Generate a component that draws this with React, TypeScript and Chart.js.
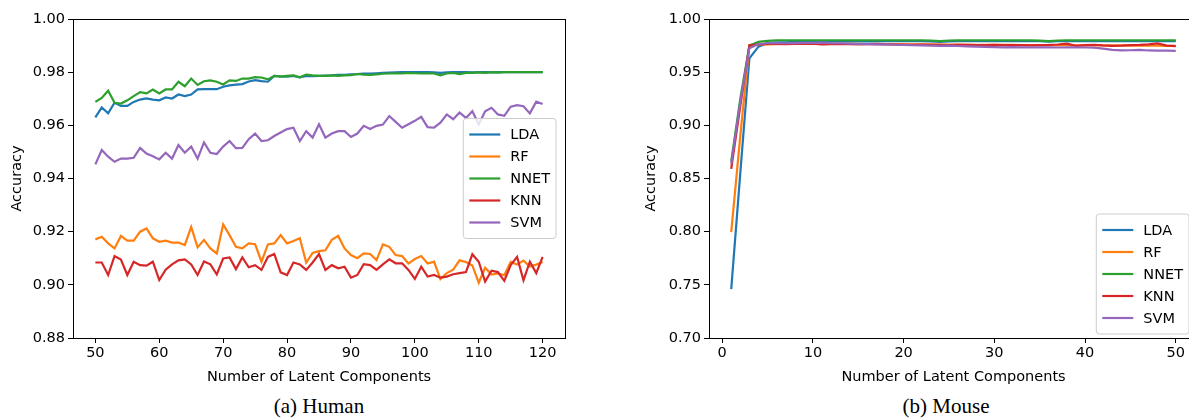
import React, { useEffect, useRef } from "react";
import { Chart, registerables } from "chart.js";

Chart.register(...registerables);

// ---------- data ----------
const seriesNames = ["LDA", "RF", "NNET", "KNN", "SVM"];
const seriesColors = ["#1f77b4", "#ff7f0e", "#2ca02c", "#d62728", "#9467bd"];

const humanComponents = [
  50, 51, 52, 53, 54, 55, 56, 57, 58, 59,
  60, 61, 62, 63, 64, 65, 66, 67, 68, 69,
  70, 71, 72, 73, 74, 75, 76, 77, 78, 79,
  80, 81, 82, 83, 84, 85, 86, 87, 88, 89,
  90, 91, 92, 93, 94, 95, 96, 97, 98, 99,
  100, 101, 102, 103, 104, 105, 106, 107, 108, 109,
  110, 111, 112, 113, 114, 115, 116, 117, 118, 119,
  120,
];
const humanLDA = [
  0.963, 0.9667, 0.9645, 0.9685, 0.9673, 0.9673, 0.9688, 0.9697, 0.9701, 0.9697,
  0.9694, 0.9705, 0.9701, 0.9716, 0.971, 0.9716, 0.9735, 0.9736, 0.9736, 0.9736,
  0.9745, 0.975, 0.9753, 0.9755, 0.9765, 0.977, 0.9766, 0.9764, 0.9786, 0.9784,
  0.9783, 0.9786, 0.978, 0.9786, 0.9785, 0.9786, 0.9787, 0.9788, 0.979, 0.979,
  0.9792, 0.9793, 0.9795, 0.9795, 0.9796, 0.9797, 0.9798, 0.9799, 0.98, 0.98,
  0.98, 0.98, 0.98, 0.9799, 0.9797, 0.9799, 0.98, 0.98, 0.98, 0.9799,
  0.98, 0.98, 0.9799, 0.98, 0.98, 0.98, 0.98, 0.98, 0.98, 0.98,
  0.98,
];
const humanRF = [
  0.9171, 0.9181, 0.9156, 0.9137, 0.9184, 0.9166, 0.9166, 0.92, 0.9212, 0.9175,
  0.9162, 0.9166, 0.9159, 0.9159, 0.915, 0.9218, 0.9141, 0.9169, 0.9137, 0.9118,
  0.9227, 0.9187, 0.9143, 0.9137, 0.9156, 0.9153, 0.9087, 0.9152, 0.9156, 0.9187,
  0.9156, 0.9165, 0.9175, 0.9084, 0.912, 0.9127, 0.913, 0.9169, 0.9184, 0.9137,
  0.9112, 0.91, 0.9118, 0.9116, 0.9093, 0.9152, 0.9143, 0.9112, 0.9108, 0.908,
  0.9097, 0.9108, 0.908, 0.9087, 0.9022, 0.9044, 0.9057, 0.9092, 0.9086, 0.9073,
  0.9008, 0.9064, 0.9039, 0.9043, 0.9036, 0.9086, 0.9076, 0.9091, 0.9069, 0.9076,
  0.9086,
];
const humanNNET = [
  0.9688, 0.9703, 0.973, 0.9685, 0.9682, 0.9694, 0.971, 0.9725, 0.972, 0.9735,
  0.972, 0.9735, 0.9735, 0.9764, 0.9747, 0.9776, 0.9752, 0.9766, 0.9769, 0.9764,
  0.9754, 0.9769, 0.9767, 0.9776, 0.9776, 0.9781, 0.978, 0.9773, 0.9786, 0.9783,
  0.9786, 0.9788, 0.9781, 0.9791, 0.9788, 0.9786, 0.9786, 0.9788, 0.9786, 0.9788,
  0.9789, 0.9793, 0.9791, 0.979, 0.9792, 0.9794, 0.9795, 0.9796, 0.9795, 0.9797,
  0.9796, 0.9795, 0.9796, 0.9795, 0.9788, 0.9795, 0.9797, 0.9793, 0.9797, 0.9797,
  0.9799, 0.9797, 0.98, 0.9798, 0.98, 0.98, 0.98, 0.98, 0.98, 0.98,
  0.98,
];
const humanKNN = [
  0.9084, 0.9084, 0.9037, 0.9108, 0.9095, 0.9037, 0.9087, 0.9074, 0.9072, 0.9087,
  0.9018, 0.9057, 0.9077, 0.9092, 0.9096, 0.9077, 0.9037, 0.9088, 0.9077, 0.9039,
  0.9099, 0.9103, 0.9059, 0.9103, 0.9066, 0.9074, 0.9056, 0.9105, 0.9116, 0.9047,
  0.9037, 0.9084, 0.9077, 0.9056, 0.9084, 0.9116, 0.9056, 0.9074, 0.9062, 0.9068,
  0.9027, 0.9037, 0.9078, 0.9074, 0.9056, 0.9077, 0.9096, 0.9081, 0.9081, 0.9056,
  0.9022, 0.9068, 0.9031, 0.9037, 0.9027, 0.9031, 0.904, 0.9044, 0.9048, 0.9115,
  0.9087, 0.9012, 0.9053, 0.9048, 0.9015, 0.9074, 0.9105, 0.9017, 0.9087, 0.9044,
  0.9105,
];
const humanSVM = [
  0.9453, 0.9507, 0.9482, 0.9463, 0.9475, 0.9475, 0.9478, 0.9515, 0.9494, 0.9484,
  0.9472, 0.9497, 0.9475, 0.9526, 0.9497, 0.952, 0.9475, 0.9536, 0.9497, 0.9492,
  0.952, 0.9541, 0.9514, 0.9515, 0.9548, 0.9569, 0.9541, 0.9544, 0.956, 0.9573,
  0.9586, 0.9591, 0.9541, 0.9578, 0.9554, 0.9604, 0.9554, 0.9569, 0.9578, 0.9578,
  0.9556, 0.9569, 0.9598, 0.9586, 0.9598, 0.9603, 0.9635, 0.9613, 0.9591, 0.9604,
  0.9617, 0.9632, 0.9593, 0.9591, 0.961, 0.9641, 0.9623, 0.9648, 0.9628, 0.9653,
  0.9603, 0.9653, 0.9666, 0.9641, 0.9636, 0.967, 0.9676, 0.9672, 0.9645, 0.9689,
  0.968,
];

const mouseComponents = [
  1, 2, 3, 4, 5, 6, 7, 8, 9, 10,
  11, 12, 13, 14, 15, 16, 17, 18, 19, 20,
  21, 22, 23, 24, 25, 26, 27, 28, 29, 30,
  31, 32, 33, 34, 35, 36, 37, 38, 39, 40,
  41, 42, 43, 44, 45, 46, 47, 48, 49, 50,
];
const mouseLDA = [
  0.746, 0.855, 0.963, 0.974, 0.9775, 0.978, 0.978, 0.9785, 0.9787, 0.9788,
  0.979, 0.979, 0.979, 0.9791, 0.979, 0.9791, 0.979, 0.9791, 0.9792, 0.9791,
  0.9792, 0.9791, 0.979, 0.9784, 0.979, 0.9792, 0.9792, 0.9791, 0.9792, 0.9792,
  0.9792, 0.9792, 0.9791, 0.9792, 0.9791, 0.9788, 0.9792, 0.9792, 0.9792, 0.9792,
  0.9792, 0.9792, 0.9792, 0.9792, 0.9792, 0.9792, 0.9792, 0.9792, 0.9792, 0.9792,
];
const mouseRF = [
  0.7995, 0.89, 0.9755, 0.976, 0.9762, 0.9764, 0.9765, 0.9765, 0.9765, 0.9765,
  0.9766, 0.9765, 0.9766, 0.9767, 0.9766, 0.9765, 0.9766, 0.9765, 0.9764, 0.9763,
  0.9762, 0.9762, 0.9761, 0.976, 0.976, 0.9759, 0.9758, 0.9758, 0.9757, 0.9757,
  0.9756, 0.9756, 0.9755, 0.9755, 0.9754, 0.9754, 0.9753, 0.9754, 0.9753, 0.9752,
  0.9752, 0.9751, 0.9752, 0.9752, 0.975, 0.975, 0.9749, 0.9749, 0.9748, 0.9748,
];
const mouseNNET = [
  0.866, 0.925, 0.975, 0.9785, 0.9795, 0.98, 0.98, 0.98, 0.98, 0.98,
  0.98, 0.98, 0.98, 0.98, 0.98, 0.98, 0.98, 0.98, 0.98, 0.98,
  0.98, 0.98, 0.9798, 0.9792, 0.9798, 0.98, 0.98, 0.98, 0.98, 0.98,
  0.98, 0.98, 0.98, 0.98, 0.9797, 0.9792, 0.9798, 0.98, 0.98, 0.98,
  0.98, 0.98, 0.98, 0.98, 0.98, 0.98, 0.98, 0.98, 0.98, 0.98,
];
const mouseKNN = [
  0.859, 0.918, 0.975, 0.9762, 0.9765, 0.9765, 0.9764, 0.9765, 0.9766, 0.9768,
  0.976, 0.9763, 0.9765, 0.9764, 0.9762, 0.9763, 0.9764, 0.9762, 0.976, 0.9758,
  0.9758, 0.976, 0.9757, 0.9756, 0.9755, 0.9756, 0.9756, 0.9754, 0.9755, 0.9756,
  0.9754, 0.9755, 0.9754, 0.9753, 0.9755, 0.9756, 0.976, 0.9769, 0.9748, 0.9755,
  0.9758, 0.9752, 0.9748, 0.975, 0.9754, 0.9756, 0.9762, 0.977, 0.975, 0.9745,
];
const mouseSVM = [
  0.8637, 0.922, 0.9724, 0.9765, 0.9772, 0.9773, 0.9772, 0.9774, 0.9775, 0.9776,
  0.9778, 0.9774, 0.9772, 0.9768, 0.9765, 0.9764, 0.9762, 0.9762, 0.9758, 0.9756,
  0.9753, 0.9752, 0.975, 0.9748, 0.9749, 0.9746, 0.9743, 0.974, 0.9738, 0.9736,
  0.9734, 0.9735, 0.9734, 0.9733, 0.9734, 0.9733, 0.9732, 0.9734, 0.9733, 0.9732,
  0.973, 0.9722, 0.9709, 0.9705, 0.9706, 0.971, 0.9704, 0.9702, 0.9703, 0.97,
];

const humanXTicks = [50, 60, 70, 80, 90, 100, 110, 120];
const humanYTicks = [0.88, 0.9, 0.92, 0.94, 0.96, 0.98, 1.0];
const mouseXTicks = [0, 10, 20, 30, 40, 50];
const mouseYTicks = [0.7, 0.75, 0.8, 0.85, 0.9, 0.95, 1.0];

const xTitle = "Number of Latent Components";
const yTitle = "Accuracy";

// ---------- helpers ----------
const FONT = "'DejaVu Sans', Verdana, sans-serif";
const FONT_SIZE = 14.5;
const TICK_FONT = { family: FONT, size: FONT_SIZE };
const AXIS_COLOR = "#000000";

const boxPlugin = {
  id: "mplBox",
  afterDatasetsDraw(chart: any) {
    const { ctx, chartArea: a } = chart;
    ctx.save();
    ctx.strokeStyle = AXIS_COLOR;
    ctx.lineWidth = 1;
    ctx.strokeRect(Math.round(a.left) + 0.5, Math.round(a.top) + 0.5, Math.round(a.right - a.left), Math.round(a.bottom - a.top));
    ctx.restore();
  },
};

function makeLegendPlugin(loc: "centerRight" | "lowerRight") {
  return {
    id: "mplLegend",
    afterDraw(chart: any) {
      const { ctx, chartArea: a } = chart;
      const labels: string[] = chart.data.datasets.map((d: any) => d.label);
      const colors: string[] = chart.data.datasets.map((d: any) => d.borderColor);
      ctx.save();
      ctx.font = `${FONT_SIZE}px ${FONT}`;
      const textW = Math.max(...labels.map((l) => ctx.measureText(l).width));
      const padX = 6;
      const handle = 31;
      const gap = 10;
      const rowH = 22;
      const padY = 5;
      const boxW = padX + handle + gap + textW + padX;
      const boxH = labels.length * rowH + padY * 2;
      const x = a.right - 9 - boxW;
      const y = loc === "centerRight" ? (a.top + a.bottom) / 2 - boxH / 2 : a.bottom - 4 - boxH;
      const r = 3;
      ctx.beginPath();
      ctx.moveTo(x + r, y);
      ctx.lineTo(x + boxW - r, y);
      ctx.arcTo(x + boxW, y, x + boxW, y + r, r);
      ctx.lineTo(x + boxW, y + boxH - r);
      ctx.arcTo(x + boxW, y + boxH, x + boxW - r, y + boxH, r);
      ctx.lineTo(x + r, y + boxH);
      ctx.arcTo(x, y + boxH, x, y + boxH - r, r);
      ctx.lineTo(x, y + r);
      ctx.arcTo(x, y, x + r, y, r);
      ctx.closePath();
      ctx.fillStyle = "rgba(255,255,255,0.8)";
      ctx.fill();
      ctx.strokeStyle = "#cccccc";
      ctx.lineWidth = 1;
      ctx.stroke();
      ctx.textBaseline = "middle";
      ctx.textAlign = "left";
      labels.forEach((l, i) => {
        const cy = y + padY + rowH * i + rowH / 2;
        ctx.beginPath();
        ctx.strokeStyle = colors[i];
        ctx.lineWidth = 2.2;
        ctx.moveTo(x + padX, cy);
        ctx.lineTo(x + padX + handle, cy);
        ctx.stroke();
        ctx.fillStyle = "#000";
        ctx.fillText(l, x + padX + handle + gap, cy + 1);
      });
      ctx.restore();
    },
  };
}

type PanelProps = {
  xs: number[];
  series: number[][];
  xMin: number;
  xMax: number;
  yMin: number;
  yMax: number;
  xTicks: number[];
  yTicks: number[];
  yDecimals: number;
  left: number;
  width: number;
  height: number;
  axisWidth: number;
  plotRight: number;
  plotTop: number;
  plotBottom: number;
  legendLoc: "centerRight" | "lowerRight";
};

function Panel(p: PanelProps) {
  const ref = useRef<HTMLCanvasElement>(null);
  useEffect(() => {
    const canvas = ref.current;
    if (!canvas) return;
    const n = seriesNames.length;
    const chart = new Chart(canvas, {
      type: "line",
      data: {
        datasets: seriesNames.map((name, i) => ({
          label: name,
          data: p.xs.map((x, j) => ({ x, y: p.series[i][j] })),
          borderColor: seriesColors[i],
          backgroundColor: seriesColors[i],
          borderWidth: 2.2,
          pointRadius: 0,
          fill: false,
          tension: 0,
          order: n - i,
        })),
      },
      options: {
        animation: false,
        responsive: false,
        maintainAspectRatio: false,
        events: [],
        layout: { padding: { top: p.plotTop, right: p.width - p.plotRight, left: 0, bottom: 0 } },
        plugins: { legend: { display: false }, tooltip: { enabled: false } },
        scales: {
          x: {
            type: "linear",
            min: p.xMin,
            max: p.xMax,
            afterBuildTicks: (scale: any) => {
              scale.ticks = p.xTicks.map((v) => ({ value: v }));
            },
            afterFit: (scale: any) => {
              scale.height = p.height - p.plotBottom;
            },
            ticks: {
              font: TICK_FONT,
              color: "#000",
              padding: 2,
              maxRotation: 0,
              autoSkip: false,
              callback: (v: any) => String(v),
            },
            grid: { drawOnChartArea: false, drawTicks: true, tickLength: 5, color: AXIS_COLOR, lineWidth: 1 },
            border: { display: true, color: AXIS_COLOR, width: 1 },
            title: { display: true, text: xTitle, font: TICK_FONT, color: "#000", padding: { top: 0, bottom: 6 } },
          },
          y: {
            type: "linear",
            min: p.yMin,
            max: p.yMax,
            afterBuildTicks: (scale: any) => {
              scale.ticks = p.yTicks.map((v) => ({ value: v }));
            },
            afterFit: (scale: any) => {
              scale.width = p.axisWidth;
            },
            ticks: {
              font: TICK_FONT,
              color: "#000",
              padding: 3,
              autoSkip: false,
              callback: (v: any) => Number(v).toFixed(p.yDecimals),
            },
            grid: { drawOnChartArea: false, drawTicks: true, tickLength: 5, color: AXIS_COLOR, lineWidth: 1 },
            border: { display: true, color: AXIS_COLOR, width: 1 },
            title: { display: true, text: yTitle, font: TICK_FONT, color: "#000", padding: { top: 9, bottom: 0 } },
          },
        },
      } as any,
      plugins: [boxPlugin, makeLegendPlugin(p.legendLoc)],
    });
    return () => chart.destroy();
  }, []);
  return (
    <canvas
      ref={ref}
      width={p.width}
      height={p.height}
      style={{ position: "absolute", left: p.left, top: 0, width: p.width, height: p.height }}
    />
  );
}

const captionStyle: React.CSSProperties = {
  position: "absolute",
  top: 393,
  fontFamily: "'Liberation Serif', 'Times New Roman', serif",
  fontSize: 21,
  lineHeight: "26px",
  color: "#000",
  textAlign: "center",
  whiteSpace: "nowrap",
};

export default function App() {
  return (
    <div
      style={{
        position: "fixed",
        left: 0,
        top: 0,
        width: 1189,
        height: 420,
        overflow: "hidden",
        background: "#fff",
      }}
    >
      <Panel
        xs={humanComponents}
        series={[humanLDA, humanRF, humanNNET, humanKNN, humanSVM]}
        xMin={46.5}
        xMax={123.5}
        yMin={0.88}
        yMax={1.0}
        xTicks={humanXTicks}
        yTicks={humanYTicks}
        yDecimals={2}
        left={0}
        width={600}
        height={392}
        axisWidth={73}
        plotRight={565}
        plotTop={19}
        plotBottom={338}
        legendLoc="centerRight"
      />
      <Panel
        xs={mouseComponents}
        series={[mouseLDA, mouseRF, mouseNNET, mouseKNN, mouseSVM]}
        xMin={-1.45}
        xMax={52.45}
        yMin={0.7}
        yMax={1.0}
        xTicks={mouseXTicks}
        yTicks={mouseYTicks}
        yDecimals={2}
        left={634}
        width={590}
        height={392}
        axisWidth={75}
        plotRight={564}
        plotTop={19}
        plotBottom={338}
        legendLoc="lowerRight"
      />
      <div style={{ ...captionStyle, left: 0, width: 638 }}>(a) Human</div>
      <div style={{ ...captionStyle, left: 700, width: 492 }}>(b) Mouse</div>
    </div>
  );
}
